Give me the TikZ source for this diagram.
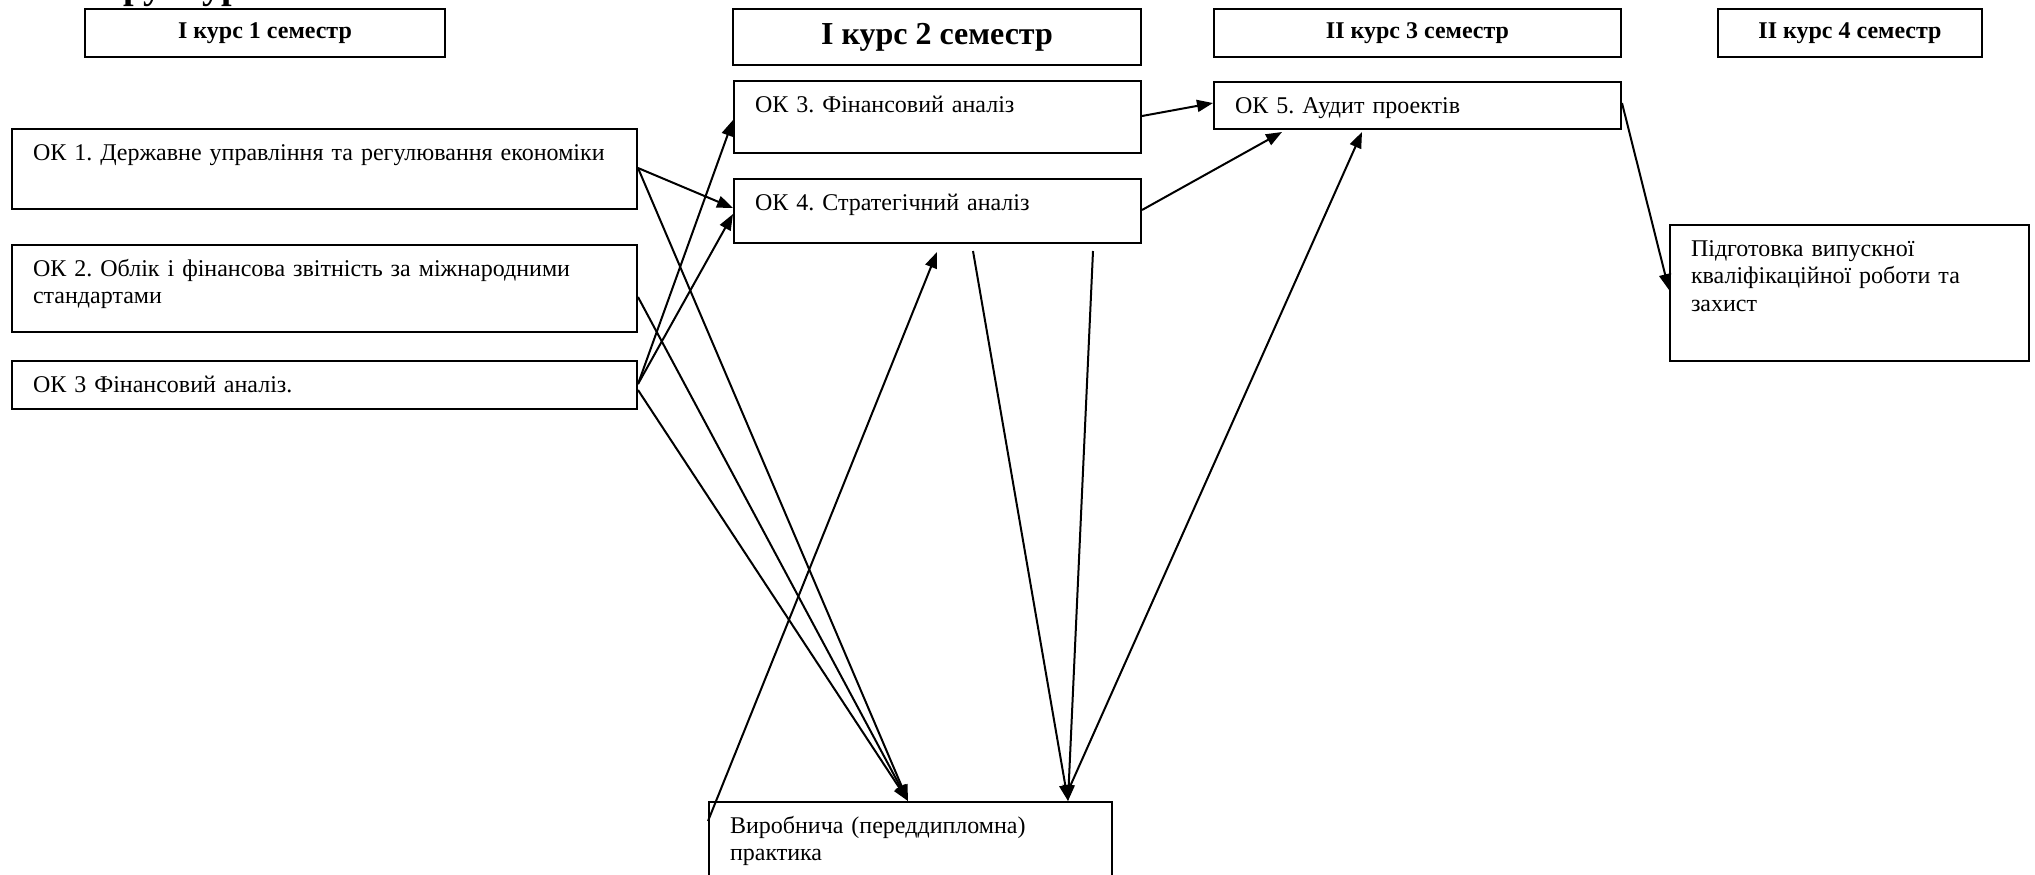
\documentclass[tikz,border=0pt]{standalone}
\usepackage{fontspec}
\setmainfont{Liberation Serif}
\usetikzlibrary{arrows.meta}
\frenchspacing

\begin{document}
\begin{tikzpicture}[x=0.5pt,y=-0.5pt,line width=1pt,
    >={Triangle[length=8pt,width=6pt]},
    kurs/.style = {draw, anchor=north west, inner sep=0pt, minimum height=24pt,
        font=\bfseries\fontsize{12}{13.8}\selectfont},
    disc/.style = {draw, anchor=north west, align=left, inner xsep=10.5pt,
        inner ysep=6.5pt, text height=9pt, font=\fontsize{12}{13.8}\selectfont}]
        \useasboundingbox (0,0) rectangle (2035,874);
        % title (cut off at the top)
        \node[anchor=base west, inner sep=0pt, font=\bfseries\fontsize{19}{22}\selectfont] (title) at (76,-2) {Структура};
        % semesters
        \node[kurs, minimum width=180pt] (k1) at (84,8) {I курс 1 семестр};
        \node[kurs, minimum width=204pt, minimum height=28pt, font=\bfseries\fontsize{16}{18}\selectfont] (k2) at (732,8) {I курс 2 семестр};
        \node[kurs, minimum width=203.5pt] (k3) at (1213,8) {II курс 3 семестр};
        \node[kurs, minimum width=132pt] (k4) at (1717,8) {II курс 4 семестр};
        % disciplines
        \node[disc, text width=291.5pt, text depth=18pt] (ok1) at (11,128) {ОК 1. Державне управління та регулювання економіки};
        \node[disc, text width=291.5pt, text depth=21.5pt] (ok2) at (11,244) {ОК 2. Облік і фінансова звітність за міжнародними\\стандартами};
        \node[disc, text width=291.5pt, text depth=2pt] (ok3) at (11,360) {ОК 3 Фінансовий аналіз.};
        \node[disc, text width=182.5pt, text depth=14pt] (fa) at (733,80) {ОК 3. Фінансовий аналіз};
        \node[disc, text width=182.5pt, text depth=10pt] (ok4) at (733,178) {ОК 4. Стратегічний аналіз};
        \node[disc, text width=182.5pt, text depth=1.5pt] (ok5) at (1213,81) {ОК 5. Аудит проектів};
        \node[disc, text width=158.5pt, text depth=46pt] (vkr) at (1669,224) {Підготовка випускної\\кваліфікаційної роботи та\\захист};
        \node[disc, text width=180.5pt, text depth=28pt] (prak) at (708,801) {Виробнича (переддипломна)\\практика};
        % links
        \draw[->] ([yshift=-20pt]ok1.north east) -- ([yshift=-15pt]ok4.north west);
        \draw[->] ([yshift=-20pt]ok1.north east) -- ([xshift=100pt]prak.north west);
        \draw[->] ([yshift=-26.5pt]ok2.north east) -- ([xshift=100pt]prak.north west);
        \draw[->] ([yshift=-12pt]ok3.north east) -- ([yshift=-20pt]fa.north west);
        \draw[->] ([yshift=-12pt]ok3.north east) -- ([yshift=-18pt]ok4.north west);
        \draw[->] ([yshift=-15pt]ok3.north east) -- ([xshift=100pt]prak.north west);
        \draw[->] ([yshift=-10pt]prak.north west) -- ([xshift=102pt,yshift=-4pt]ok4.south west);
        \draw[->] ([xshift=120pt,yshift=-3.5pt]ok4.south west) -- ([xshift=180pt]prak.north west);
        \draw[->] ([xshift=180pt,yshift=-3.5pt]ok4.south west) -- ([xshift=180pt]prak.north west);
        \draw[->] ([xshift=180pt,yshift=5pt]prak.north west) -- ([xshift=74.5pt,yshift=-1pt]ok5.south west);
        \draw[->] ([yshift=-18pt]fa.north east) -- ([yshift=-11pt]ok5.north west);
        \draw[->] ([yshift=-16pt]ok4.north east) -- ([xshift=34.5pt,yshift=-1pt]ok5.south west);
        \draw[->] ([yshift=-11pt]ok5.north east) -- ([yshift=-33pt]vkr.north west);
\end{tikzpicture}
\end{document}
